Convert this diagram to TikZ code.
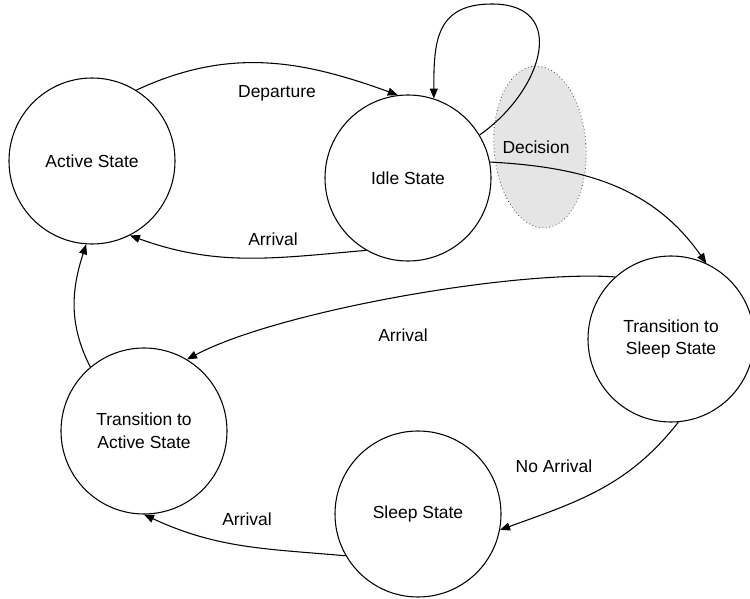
\documentclass[tikz,border=0pt]{standalone}
\usepackage{fontspec}
\setmainfont{Liberation Sans}
\usetikzlibrary{positioning,calc,arrows,arrows.meta}

\begin{document}
\begin{tikzpicture}[x=0.75pt, y=0.75pt]
	\useasboundingbox (0, 0) rectangle (750, -599);
	\begin{scope}
		\tikzstyle{every node}=[align=center, inner sep=0.2em, font=\fontsize{13.1}{17}\selectfont]
		\tikzstyle{state}=[draw, circle, minimum size=124.5pt, line width=0.8pt]
		\tikzstyle{trans}=[line width=0.8pt, ->, >={Triangle[length=7.5pt, width=6pt]}]

		% decision region behind the edges
		\filldraw [fill=gray!20, draw=gray!60!black, dotted, line width=0.6pt, rotate around={4:(540, -147)}] (540, -147) ellipse [x radius=46, y radius=81];

		\node [state] (active)   at (92, -161)  {Active State};
		\node [state] (idle)     at (408, -178) {Idle State};
		\node [state] (tosleep)  at (671, -339) {Transition to\\Sleep State};
		\node [state] (toactive) at (144, -431) {Transition to\\Active State};
		\node [state] (sleep)    at (418, -514) {Sleep State};

		\node (dep)   at (277, -93)  {Departure};
		\node (arr1)  at (273, -239) {Arrival};
		\node (dec)   at (536, -147) {Decision};
		\node (arr2)  at (403, -335) {Arrival};
		\node (noarr) at (554, -466) {No Arrival};
		\node (arr3)  at (247, -519) {Arrival};

		\coordinate (looptop) at (492, -4);

		\draw [trans] (active.58) to[out=25, in=160] (idle.97);
		\draw [trans] (idle.240) to[out=185, in=-20] (active.297);

		\draw [trans] (idle.31) to[out=35, in=0, looseness=1.5] (looptop) to[out=180, in=90, looseness=1.3] (idle.72);

		\draw [trans] (idle.11) to[out=-3, in=125] (tosleep.65);
		\draw [trans] (tosleep.132) to[out=176, in=28, looseness=0.6] (toactive.59);
		\draw [trans] (tosleep.275) to[out=232, in=20] (sleep.349);
		\draw [trans] (sleep.210) to[out=175, in=-25] (toactive.270);
		\draw [trans] (toactive.130) to[out=117, in=-108] (active.266);

	\end{scope}
\end{tikzpicture}
\end{document}
